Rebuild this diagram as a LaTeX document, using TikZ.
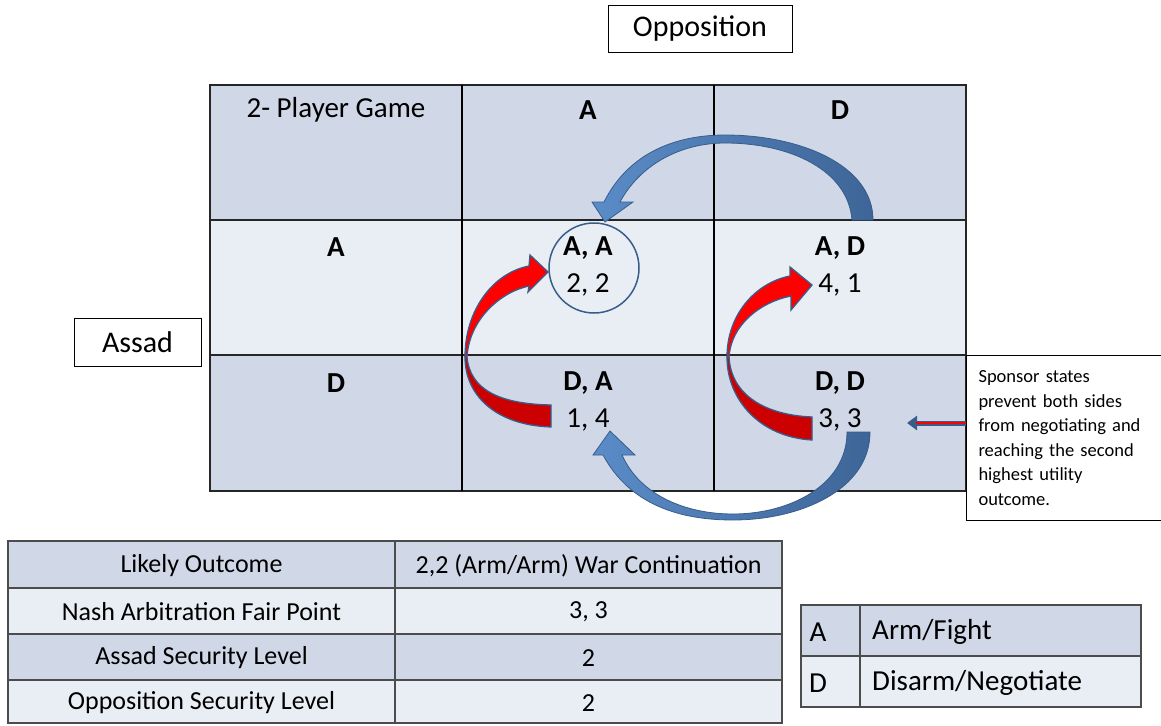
\documentclass[tikz,border=0pt]{standalone}
\usepackage{fontspec}
\setmainfont{Carlito}
\usetikzlibrary{positioning}
\usetikzlibrary{arrows.meta}
\definecolor{rowdark}{HTML}{D0D8E8}
\definecolor{rowlight}{HTML}{E9EDF4}
\definecolor{arrblue}{HTML}{5B8CC8}
\definecolor{arrbluedark}{HTML}{3E6597}
\definecolor{arredge}{HTML}{385D8A}
\definecolor{redfront}{HTML}{FF0000}
\definecolor{redback}{HTML}{CC0000}
\tikzset{
  cellfont/.style={font=\fontsize{29}{37}\selectfont, align=center},
  labelbox/.style={draw=black, line width=0.8pt, fill=white, font=\fontsize{30}{34}\selectfont},
  tabfont/.style={font=\fontsize{26}{30}\selectfont},
  legfont/.style={font=\fontsize{29}{34}\selectfont},
  gridline/.style={draw=black!85, line width=1.3pt},
  tabline/.style={draw=black!70, line width=1.1pt},
  bluearrow/.style={left color=arrblue, right color=arrbluedark, draw=arredge, line width=0.8pt},
  redarrow/.style={draw=arredge, line width=1.3pt}
}

\begin{document}
\begin{tikzpicture}[x=1pt, y=-1pt]

        \clip (0,0) rectangle (1161,725);
        \fill[white] (0,0) rectangle (1161,725);

        % Player boxes
        \node[labelbox, minimum width=184, minimum height=47] (opp) at (700,28.5) {Opposition};
        \node[labelbox, minimum width=127, minimum height=48] (assad) at (137.5,342) {Assad};

        % Game grid
        \fill[rowdark] (210,85) rectangle (966,220);
        \fill[rowlight] (210,220) rectangle (966,355);
        \fill[rowdark] (210,355) rectangle (966,491);
        \draw[gridline] (210,85) rectangle (966,491);
        \draw[gridline] (210,220) -- (966,220);
        \draw[gridline] (210,355) -- (966,355);
        \draw[gridline, draw=black] (462,85) -- (462,491);
        \draw[gridline, draw=black] (714,85) -- (714,491);

        % Headers
        \node[cellfont] (game) at (336,110) {2- Player Game};
        \node[cellfont] (colA) at (588,110) {\textbf{A}};
        \node[cellfont] (colD) at (840,110) {\textbf{D}};
        \node[cellfont] (rowA) at (336,247) {\textbf{A}};
        \node[cellfont] (rowD) at (336,383) {\textbf{D}};

        % Payoffs
        \node[cellfont] (cellAA) at (588,266) {\textbf{A, A}\\2, 2};
        \node[cellfont] (cellAD) at (840,266) {\textbf{A, D}\\4, 1};
        \node[cellfont] (cellDA) at (588,401) {\textbf{D, A}\\1, 4};
        \node[cellfont] (cellDD) at (840,401) {\textbf{D, D}\\3, 3};

        % Equilibrium ring
        \node[draw=arredge, line width=1.5pt, circle, minimum size=90] (ringAA) at (594,268) {};

        % Blue arrows (top and bottom)
        \shadedraw[bluearrow]
          (852,220) .. controls (848,170) and (790,143) .. (725,143)
          .. controls (680,143) and (640,165) .. (620,202)
          -- (633,202) -- (605,222) -- (592,202) -- (604,202)
          .. controls (630,150) and (680,135) .. (725,135)
          .. controls (800,135) and (873,165) .. (873,220) -- cycle;
        \shadedraw[bluearrow]
          (847,432) .. controls (847,485) and (790,514) .. (733,514)
          .. controls (685,514) and (640,495) .. (622,455)
          -- (635,455) -- (610,431) -- (593,455) -- (603,455)
          .. controls (630,505) and (680,520) .. (733,520)
          .. controls (800,520) and (870,490) .. (870,432) -- cycle;

        % Red arrows
        \filldraw[redarrow, fill=redback]
          (551,427) .. controls (495,425) and (465,395) .. (465,357)
          -- (467,357) .. controls (470,390) and (500,404) .. (551,405) -- cycle;
        \filldraw[redarrow, fill=redfront]
          (465,357) .. controls (465,310) and (493,273) .. (529,266)
          -- (530,255) -- (548,272) -- (528,292) -- (529,286)
          .. controls (500,292) and (469,320) .. (467,357) -- cycle;
        \filldraw[redarrow, fill=redback]
          (812,440) .. controls (760,437) and (727,400) .. (727,357)
          -- (729,357) .. controls (731,395) and (765,415) .. (812,417) -- cycle;
        \filldraw[redarrow, fill=redfront]
          (727,357) .. controls (727,315) and (755,283) .. (790,276)
          -- (790,267) -- (812,285) -- (791,310) -- (791,296)
          .. controls (760,302) and (731,325) .. (729,357) -- cycle;

        % Sponsor note
        \node[draw=black, line width=1pt, fill=white, anchor=north west, text width=176,
              inner xsep=12, minimum height=165, align=left,
              font=\fontsize{18.5}{24.6}\selectfont] (sponsor) at (966,355)
              {Sponsor states\\prevent both sides\\from negotiating and\\reaching the second\\highest utility\\outcome.};
        \coordinate (sponsorFrom) at (966,423);
        \coordinate (sponsorMid) at (916,423);
        \coordinate (sponsorTo) at (907,423);
        \draw[arredge, line width=5pt, -{Triangle[length=10pt, width=14pt]}] (sponsorFrom) -- (sponsorTo);
        \draw[red, line width=1.8pt] (sponsorFrom) -- (sponsorMid);

        % Outcome table
        \fill[rowdark] (8,541) rectangle (782,588);
        \fill[rowlight] (8,588) rectangle (782,634);
        \fill[rowdark] (8,634) rectangle (782,680);
        \fill[rowlight] (8,680) rectangle (782,723);
        \draw[tabline] (8,541) rectangle (782,723);
        \draw[tabline] (395,541) -- (395,723);
        \foreach \yl in {588,634,680}
          \draw[tabline] (8,\yl) -- (782,\yl);
        \node[tabfont] (likely) at (201.5,566) {Likely Outcome};
        \node[tabfont] (likelyV) at (588.5,566) {2,2 (Arm/Arm) War Continuation};
        \node[tabfont] (nash) at (201.5,612) {Nash Arbitration Fair Point};
        \node[tabfont] (nashV) at (588.5,612) {3, 3};
        \node[tabfont] (assadSec) at (201.5,658) {Assad Security Level};
        \node[tabfont] (assadSecV) at (588.5,658) {2};
        \node[tabfont] (oppSec) at (201.5,703) {Opposition Security Level};
        \node[tabfont] (oppSecV) at (588.5,703) {2};

        % Legend
        \fill[rowdark] (801,605) rectangle (1141,656);
        \fill[rowlight] (801,656) rectangle (1141,707);
        \draw[tabline] (801,605) rectangle (1141,707);
        \draw[tabline] (801,656) -- (1141,656);
        \draw[tabline] (860,605) -- (860,707);
        \node[legfont] (keyA) at (818,632) {A};
        \node[legfont] (keyD) at (818,683) {D};
        \node[legfont, anchor=west, inner xsep=0] (keyArm) at (872,632) {Arm/Fight};
        \node[legfont, anchor=west, inner xsep=0] (keyDisarm) at (872,683) {Disarm/Negotiate};

    \end{tikzpicture}
\end{document}
